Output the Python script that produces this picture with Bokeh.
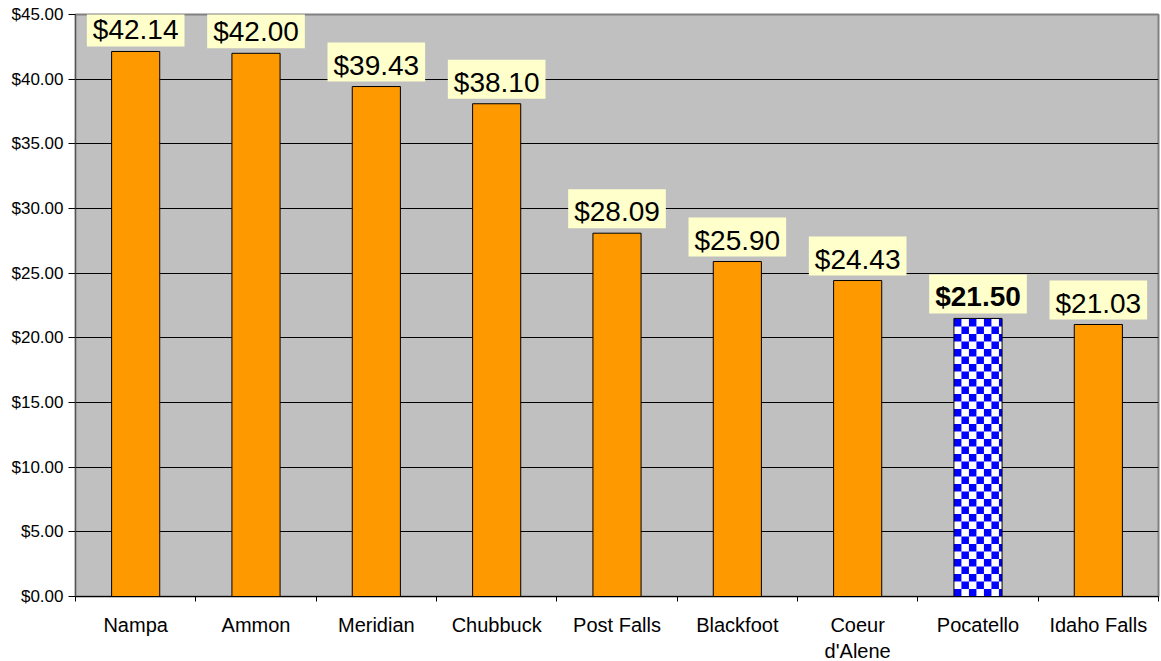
import numpy as np
from bokeh.plotting import figure
from bokeh.models import Range1d, FixedTicker, NumeralTickFormatter, ColumnDataSource, Label
from bokeh.embed import file_html
from bokeh.resources import INLINE

cities = ["Nampa", "Ammon", "Meridian", "Chubbuck", "Post Falls", "Blackfoot",
          "Coeur\nd'Alene", "Pocatello", "Idaho Falls"]
rates = [42.14, 42.00, 39.43, 38.10, 28.09, 25.90, 24.43, 21.50, 21.03]
labels = ["$42.14", "$42.00", "$39.43", "$38.10", "$28.09", "$25.90", "$24.43", "$21.50", "$21.03"]
highlight = "Pocatello"
y_ticks = [0, 5, 10, 15, 20, 25, 30, 35, 40, 45]

FONT = "Liberation Sans"
BAR_W = 0.4
FRAME_W, FRAME_H = 1083, 582
Y_MAX = 45

n = len(cities)
xs = [i + 0.5 for i in range(n)]

p = figure(width=FRAME_W + 78, height=FRAME_H + 79, frame_width=FRAME_W, frame_height=FRAME_H,
           x_range=Range1d(0, n), y_range=Range1d(0, Y_MAX),
           output_backend="svg", toolbar_location=None,
           min_border_left=75, min_border_right=3, min_border_top=14, min_border_bottom=65)
p.background_fill_color = "#C0C0C0"
p.border_fill_color = "white"
p.outline_line_color = "#808080"
p.outline_line_width = 2

# bars
norm_idx = [i for i, c in enumerate(cities) if c != highlight]
hi_idx = [i for i, c in enumerate(cities) if c == highlight]
src = ColumnDataSource(dict(x=[xs[i] for i in norm_idx], top=[rates[i] for i in norm_idx]))
p.vbar(x="x", top="top", bottom=0, width=BAR_W, source=src,
       fill_color="#FF9900", line_color="black", line_width=1)

# checkered highlight bar (vector checkerboard: blue squares over a white bar)
SQ = 7.5  # square size in screen px
sx = SQ / (FRAME_W / n)
sy = SQ / (FRAME_H / Y_MAX)
for i in hi_idx:
    p.vbar(x=[xs[i]], top=[rates[i]], bottom=0, width=BAR_W,
           fill_color="white", line_color=None)
    x0, x1 = xs[i] - BAR_W / 2, xs[i] + BAR_W / 2
    ncol = int(np.ceil(BAR_W / sx))
    nrow = int(np.ceil(rates[i] / sy))
    L, R, B, T = [], [], [], []
    for r in range(nrow):
        for c in range(ncol):
            if (r + c) % 2 == 0:
                L.append(x0 + c * sx)
                R.append(min(x0 + (c + 1) * sx, x1))
                B.append(r * sy)
                T.append(min((r + 1) * sy, rates[i]))
    p.quad(left=L, right=R, bottom=B, top=T, fill_color="#0000FF", line_color=None)
    p.vbar(x=[xs[i]], top=[rates[i]], bottom=0, width=BAR_W,
           fill_color=None, line_color="black", line_width=1)

# value labels (annotations, so they may extend above the frame)
for i in range(n):
    bold = cities[i] == highlight
    lab = Label(x=xs[i], y=rates[i], text=labels[i], text_align="center",
                text_baseline="bottom", y_offset=5, text_font=FONT,
                text_font_size="28px", text_font_style="bold" if bold else "normal",
                text_color="black", background_fill_color="#FFFFCC",
                padding=dict(left=6, right=6, top=7, bottom=1))
    p.add_layout(lab)

# axes
p.yaxis.ticker = FixedTicker(ticks=y_ticks)
p.yaxis.formatter = NumeralTickFormatter(format="$0.00")
p.yaxis.major_label_text_font = FONT
p.yaxis.major_label_text_font_size = "17px"
p.yaxis.major_label_text_color = "black"
p.yaxis.major_tick_out = 7
p.yaxis.major_tick_in = 0
p.yaxis.minor_tick_line_color = None
p.yaxis.axis_line_color = "#555555"
p.yaxis.major_tick_line_color = "black"
p.yaxis.major_label_standoff = 5

p.xaxis.ticker = FixedTicker(ticks=xs, minor_ticks=list(range(n + 1)))
p.xaxis.major_label_overrides = {x: c for x, c in zip(xs, cities)}
p.xaxis.major_label_text_font = FONT
p.xaxis.major_label_text_font_size = "20px"
p.xaxis.major_label_text_color = "black"
p.xaxis.major_tick_line_color = None
p.xaxis.major_tick_out = 0
p.xaxis.major_tick_in = 0
p.xaxis.minor_tick_out = 5
p.xaxis.minor_tick_in = 0
p.xaxis.minor_tick_line_color = "black"
p.xaxis.axis_line_color = "black"
p.xaxis.major_label_standoff = 12

p.xgrid.grid_line_color = None
p.ygrid.ticker = FixedTicker(ticks=y_ticks[1:-1])
p.ygrid.grid_line_color = "black"
p.ygrid.grid_line_width = 1

open("out.html", "w").write(file_html(p, INLINE))
